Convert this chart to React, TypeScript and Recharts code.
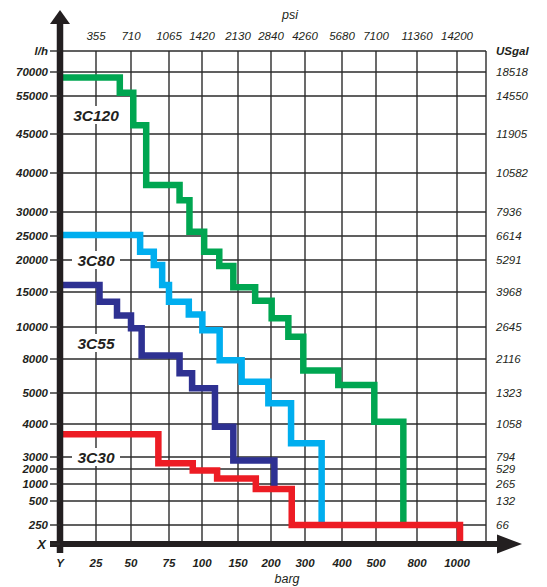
import React from 'react';
import {
  LineChart,
  Line,
  XAxis,
  YAxis,
  CartesianGrid,
  ReferenceLine,
  ReferenceDot,
} from 'recharts';

// ---- Tick labels ----
const BARG_TICKS = [0, 25, 50, 75, 100, 150, 200, 300, 400, 500, 800, 1000];
const BARG_LABELS = ['Y', '25', '50', '75', '100', '150', '200', '300', '400', '500', '800', '1000'];
const PSI_LABELS = ['', '355', '710', '1065', '1420', '2130', '2840', '4260', '5680', '7100', '11360', '14200'];
const LH_TICKS = [0, 250, 500, 1000, 2000, 3000, 4000, 5000, 8000, 10000, 15000, 20000, 25000, 30000, 40000, 45000, 55000, 70000];
const LH_LABELS = ['X', '250', '500', '1000', '2000', '3000', '4000', '5000', '8000', '10000', '15000', '20000', '25000', '30000', '40000', '45000', '55000', '70000'];
const USGAL_LABELS = ['', '66', '132', '265', '529', '794', '1058', '1323', '2116', '2645', '3968', '5291', '6614', '7936', '10582', '11905', '14550', '18518'];

// ---- Hand-drawn grid layout (axis units of the chart's irregular scale) ----
const X_GRID_UNITS = [0, 36, 71, 109, 142, 178, 211, 245, 282, 316, 357, 397];
const X_FRAME = 426;
const Y_GRID_UNITS = [0, 19, 43, 60, 75, 87, 120, 151, 185, 217, 252, 284, 308, 332, 371, 410, 448, 472];
const Y_FRAME = 493;

// ---- Series: pressure breakpoints (barg) and flow levels (l/h) ----
const C120_BARG = [0, 42, 51.5, 60, 83, 90.5, 103, 124, 143.5, 176, 202, 251, 295, 390, 495, 700];
const C120_LH = [66500, 57000, 47300, 36900, 33000, 25900, 21700, 19060, 15730, 13760, 11240, 9390, 6990, 5710, 4070, 250];

const C80_BARG = [0, 56, 65, 70.5, 75, 90, 100.5, 124.5, 155.5, 196, 259, 345];
const C80_LH = [25200, 21700, 19200, 16100, 13600, 11800, 9800, 7900, 6000, 4670, 3420, 250];

const C55_BARG = [0, 27.5, 40, 50, 57, 83, 92.5, 118, 143.5, 210];
const C55_LH = [16100, 13600, 11650, 9920, 8220, 6740, 5420, 3920, 2710, 850];

const C30_BARG = [0, 68, 93, 121, 177, 261, 1015];
const C30_LH = [3690, 2480, 1900, 1370, 850, 250, 0];

// series name tags
const TAG_NAMES = ['3C120', '3C80', '3C55', '3C30'];
const TAG_BARG = [25, 25, 25, 25];
const TAG_LH = [50000, 20000, 9000, 3000];

const COLORS = { c120: '#00a651', c80: '#00aeef', c55: '#2e3192', c30: '#ed1c24' };
const INK = '#231f20';
const GRID = '#2b2b2b';
const FONT = "'Liberation Sans', Arial, sans-serif";

function interp(v: number, from: number[], to: number[]) {
  const n = from.length;
  let i = 0;
  while (i < n - 2 && v > from[i + 1]) i++;
  const t = (v - from[i]) / (from[i + 1] - from[i]);
  return to[i] + t * (to[i + 1] - to[i]);
}
const toX = (barg: number) => interp(barg, BARG_TICKS, X_GRID_UNITS);
const toY = (lh: number) => interp(lh, LH_TICKS, Y_GRID_UNITS);

const build = (bs: number[], ls: number[]) => bs.map((b, i) => ({ x: toX(b), y: toY(ls[i]) }));

const D120 = build(C120_BARG, C120_LH);
const D80 = build(C80_BARG, C80_LH);
const D55 = build(C55_BARG, C55_LH);
const D30 = build(C30_BARG, C30_LH);

const idxOf = (arr: number[], v: number) => arr.findIndex((u) => Math.abs(u - v) < 0.01);

const txt = (extra: any) => ({
  fontFamily: FONT,
  fontStyle: 'italic',
  fill: INK,
  fontSize: 11.5,
  ...extra,
});

const BottomTick = (props: any) => {
  const { x, y, payload } = props;
  const i = idxOf(X_GRID_UNITS, payload.value);
  if (i < 0) return <g />;
  return (
    <text x={x} y={y + 23} textAnchor="middle" {...txt({ fontWeight: 'bold' })}>
      {BARG_LABELS[i]}
    </text>
  );
};

const TopTick = (props: any) => {
  const { x, y, payload } = props;
  const i = idxOf(X_GRID_UNITS, payload.value);
  if (i < 0) return <g />;
  return (
    <text x={x} y={y - 11} textAnchor="middle" {...txt({})}>
      {PSI_LABELS[i]}
    </text>
  );
};

const LeftTick = (props: any) => {
  const { x, y, payload } = props;
  if (Math.abs(payload.value - Y_FRAME) < 0.01) {
    return (
      <text x={x} y={y + 4} textAnchor="end" {...txt({ fontWeight: 'bold' })}>
        l/h
      </text>
    );
  }
  const i = idxOf(Y_GRID_UNITS, payload.value);
  if (i < 0) return <g />;
  if (i === 0) {
    return (
      <text x={x - 2} y={y + 5} textAnchor="end" {...txt({ fontWeight: 'bold', fontSize: 13 })}>
        {LH_LABELS[i]}
      </text>
    );
  }
  return (
    <text x={x} y={y + 4.1} textAnchor="end" {...txt({ fontWeight: 'bold', fontSize: 11.5 })}>
      {LH_LABELS[i]}
    </text>
  );
};

const RightTick = (props: any) => {
  const { x, y, payload } = props;
  if (Math.abs(payload.value - Y_FRAME) < 0.01) {
    return (
      <text x={x + 10} y={y + 4} textAnchor="start" {...txt({ fontWeight: 'bold' })}>
        USgal
      </text>
    );
  }
  const i = idxOf(Y_GRID_UNITS, payload.value);
  if (i <= 0) return <g />;
  return (
    <text x={x + 10} y={y + 4.1} textAnchor="start" {...txt({})}>
      {USGAL_LABELS[i]}
    </text>
  );
};

const XAxisArrow = (p: any) => (
  <g>
    <line x1={p.x1} y1={p.y1} x2={p.x2} y2={p.y2} stroke={INK} strokeWidth={6} />
    <polygon points={`${p.x2},${p.y2 - 9.5} ${p.x2 + 25},${p.y2} ${p.x2},${p.y2 + 9.5}`} fill={INK} />
  </g>
);

const YAxisArrow = (p: any) => (
  <g>
    <line x1={p.x1} y1={p.y1} x2={p.x2} y2={p.y2} stroke={INK} strokeWidth={6.5} />
    <polygon points={`${p.x2 - 10},${p.y2} ${p.x2},${p.y2 - 14} ${p.x2 + 10},${p.y2}`} fill={INK} />
  </g>
);

const makeTag = (name: string) => (p: any) => (
  <g>
    <rect x={p.cx - 24} y={p.cy - 9} width={48} height={18} fill="#ffffff" />
    <text
      x={p.cx}
      y={p.cy + 5.5}
      textAnchor="middle"
      fontFamily={FONT}
      fontStyle="italic"
      fontWeight="bold"
      fontSize={15.5}
      fill={INK}
    >
      {name}
    </text>
  </g>
);

const barg = (p: any) => {
  const vb = p.viewBox || {};
  return (
    <text x={vb.x + 227} y={vb.y + 39} textAnchor="middle" {...txt({ fontSize: 12.5 })}>
      barg
    </text>
  );
};

const psi = (p: any) => {
  const vb = p.viewBox || {};
  return (
    <text x={vb.x + 230} y={vb.y - 31} textAnchor="middle" {...txt({ fontSize: 12.5 })}>
      psi
    </text>
  );
};

const lineProps = {
  type: 'stepAfter' as const,
  dataKey: 'y',
  dot: false,
  activeDot: false,
  strokeWidth: 6.5,
  strokeLinejoin: 'miter' as const,
  strokeLinecap: 'butt' as const,
  isAnimationActive: false,
};

export default function App() {
  return (
    <div style={{ position: 'absolute', left: 0, top: 0, width: 547, height: 587, background: '#fff' }}>
      <LineChart width={547} height={587} margin={{ top: 50, right: 60, bottom: 42, left: 59 }}>
        <CartesianGrid stroke={GRID} strokeWidth={1.4} />
        <XAxis
          xAxisId={0}
          type="number"
          dataKey="x"
          domain={[0, X_FRAME]}
          ticks={[...X_GRID_UNITS, X_FRAME]}
          interval={0}
          allowDataOverflow
          height={1}
          axisLine={false}
          tickLine={false}
          tickSize={0}
          tickMargin={0}
          tick={<BottomTick />}
          label={{ value: 'barg', content: barg }}
        />
        <XAxis
          xAxisId="top"
          orientation="top"
          type="number"
          dataKey="x"
          domain={[0, X_FRAME]}
          ticks={X_GRID_UNITS.slice(1)}
          interval={0}
          allowDataOverflow
          height={1}
          axisLine={false}
          tickLine={false}
          tickSize={0}
          tickMargin={0}
          tick={<TopTick />}
          label={{ value: 'psi', content: psi }}
        />
        <YAxis
          yAxisId={0}
          type="number"
          domain={[0, Y_FRAME]}
          ticks={[...Y_GRID_UNITS, Y_FRAME]}
          interval={0}
          allowDataOverflow
          width={1}
          axisLine={false}
          tickLine={{ stroke: GRID, strokeWidth: 1.4 }}
          tickSize={10}
          tickMargin={2}
          tick={<LeftTick />}
        />
        <YAxis
          yAxisId="right"
          orientation="right"
          type="number"
          domain={[0, Y_FRAME]}
          ticks={[...Y_GRID_UNITS.slice(1), Y_FRAME]}
          interval={0}
          allowDataOverflow
          width={1}
          axisLine={false}
          tickLine={false}
          tickSize={0}
          tickMargin={0}
          tick={<RightTick />}
        />
        <Line {...lineProps} data={D120} stroke={COLORS.c120} />
        <Line {...lineProps} data={D80} stroke={COLORS.c80} />
        <Line {...lineProps} data={D55} stroke={COLORS.c55} />
        <Line {...lineProps} data={D30} stroke={COLORS.c30} />
        {TAG_NAMES.map((n, i) => (
          <ReferenceDot
            key={n}
            x={toX(TAG_BARG[i])}
            y={toY(TAG_LH[i])}
            r={0}
            ifOverflow="visible"
            shape={makeTag(n)}
          />
        ))}
        <ReferenceLine
          segment={[{ x: -10, y: 0 }, { x: 437, y: 0 }]}
          ifOverflow="visible"
          shape={XAxisArrow}
        />
        <ReferenceLine
          segment={[{ x: 0, y: -9 }, { x: 0, y: 520 }]}
          ifOverflow="visible"
          shape={YAxisArrow}
        />
      </LineChart>
    </div>
  );
}
